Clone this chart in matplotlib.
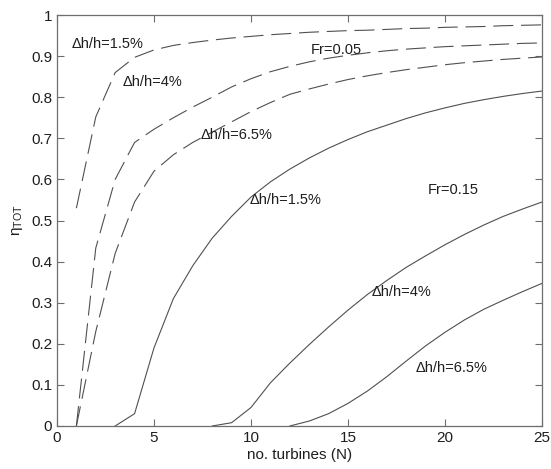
from matplotlib import pyplot as plt
import numpy as np

plt.rcParams['font.family'] = ['Liberation Sans', 'DejaVu Sans']

# Fr = 0.05 (dashed)
n_fr05 = np.arange(1, 26)
eta_fr05_15 = [0.53, 0.752, 0.86, 0.897, 0.915, 0.926, 0.933, 0.939, 0.944, 0.948,
               0.952, 0.955, 0.958, 0.960, 0.962, 0.963, 0.965, 0.967, 0.968, 0.970,
               0.971, 0.972, 0.974, 0.975, 0.976]
eta_fr05_40 = [0.0, 0.433, 0.60, 0.69, 0.722, 0.75, 0.776, 0.80, 0.825, 0.845,
               0.862, 0.875, 0.886, 0.895, 0.902, 0.908, 0.913, 0.917, 0.920, 0.923,
               0.925, 0.927, 0.929, 0.931, 0.932]
eta_fr05_65 = [0.0, 0.23, 0.42, 0.545, 0.62, 0.66, 0.69, 0.715, 0.74, 0.765,
               0.787, 0.807, 0.820, 0.832, 0.843, 0.852, 0.860, 0.867, 0.873, 0.879,
               0.884, 0.888, 0.892, 0.895, 0.898]

# Fr = 0.15 (solid)
n_fr15_15 = np.arange(3, 26)
eta_fr15_15 = [0.0, 0.03, 0.19, 0.31, 0.39, 0.457, 0.51, 0.557, 0.594, 0.625,
               0.652, 0.676, 0.697, 0.716, 0.732, 0.748, 0.762, 0.774, 0.785, 0.794,
               0.802, 0.809, 0.815]
n_fr15_40 = np.arange(8, 26)
eta_fr15_40 = [0.0, 0.008, 0.045, 0.105, 0.153, 0.198, 0.241, 0.282, 0.32, 0.354,
               0.386, 0.414, 0.441, 0.466, 0.489, 0.51, 0.528, 0.545]
n_fr15_65 = np.arange(12, 26)
eta_fr15_65 = [0.0, 0.012, 0.03, 0.055, 0.085, 0.12, 0.158, 0.195, 0.228, 0.258,
               0.284, 0.306, 0.327, 0.347]

line_col = '#505050'
txt_col = '#1e1e1e'

fig = plt.figure(figsize=(5.51, 4.69), dpi=100)
ax = fig.add_axes([0.1034, 0.0917, 0.8803, 0.8763])

dash = (0, (18, 7))
ax.plot(n_fr05, eta_fr05_15, color=line_col, lw=0.8, linestyle=dash)
ax.plot(n_fr05, eta_fr05_40, color=line_col, lw=0.8, linestyle=dash)
ax.plot(n_fr05, eta_fr05_65, color=line_col, lw=0.8, linestyle=dash)
ax.plot(n_fr15_15, eta_fr15_15, color=line_col, lw=0.8)
ax.plot(n_fr15_40, eta_fr15_40, color=line_col, lw=0.8)
ax.plot(n_fr15_65, eta_fr15_65, color=line_col, lw=0.8)

# etykiety krzywych
fs = 10.5
ax.text(0.77, 0.93, 'Δh/h=1.5%', fontsize=fs, color=txt_col, va='center')
ax.text(3.4, 0.837, 'Δh/h=4%', fontsize=fs, color=txt_col, va='center')
ax.text(7.4, 0.708, 'Δh/h=6.5%', fontsize=fs, color=txt_col, va='center')
ax.text(13.1, 0.915, 'Fr=0.05', fontsize=fs, color=txt_col, va='center')
ax.text(9.95, 0.55, 'Δh/h=1.5%', fontsize=fs, color=txt_col, va='center')
ax.text(19.1, 0.574, 'Fr=0.15', fontsize=fs, color=txt_col, va='center')
ax.text(16.2, 0.326, 'Δh/h=4%', fontsize=fs, color=txt_col, va='center')
ax.text(18.5, 0.141, 'Δh/h=6.5%', fontsize=fs, color=txt_col, va='center')

ax.set_xlim(0, 25)
ax.set_ylim(0, 1)
ax.set_xticks(np.arange(0, 26, 5))
ax.set_yticks(np.arange(0, 1.01, 0.1))
ax.set_yticklabels(['0', '0.1', '0.2', '0.3', '0.4', '0.5', '0.6', '0.7', '0.8', '0.9', '1'])
ax.tick_params(direction='in', length=5, width=0.8, top=True, right=True,
               colors='#6e6e6e', labelcolor=txt_col, labelsize=11)
for sp in ax.spines.values():
    sp.set_color('#6e6e6e')
    sp.set_linewidth(0.9)

ax.set_xlabel('no. turbines (N)', fontsize=11, color=txt_col, labelpad=2)
ax.set_ylabel(r'$\mathregular{\eta_{TOT}}$', fontsize=11, color=txt_col, labelpad=4)

fig.savefig('out.png', dpi=100)
